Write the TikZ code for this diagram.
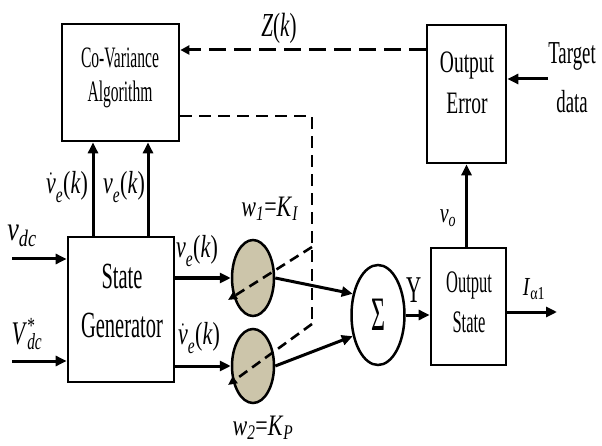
\documentclass[tikz,border=0pt]{standalone}
\usepackage{fontspec}
\setmainfont{Liberation Serif}
\usetikzlibrary{arrows.meta,shapes.geometric}
\definecolor{tanfill}{RGB}{204,197,170}
\newcommand\vs[2]{\scalebox{1}[#1]{#2}}
\newcommand\fs[2]{\fontsize{#1}{#2}\selectfont}
\newcommand\twol[2]{\begin{tabular}{@{}c@{}}#1\\#2\end{tabular}}
\newcommand\dv{\ensuremath{\dot{\mbox{\itshape v}}}}
\newcommand\lsub[1]{\raisebox{-0.12em}{\textsubscript{\textit{#1}}}}
\begin{document}
\begin{tikzpicture}[x=1pt,y=-1pt,
 box/.style={draw,line width=2.7pt,rectangle,inner sep=0pt},
 txt/.style={inner sep=0pt,outer sep=0pt},
 arr/.style={line width=3pt,-{Triangle[length=11pt,width=10pt]}},
 zarr/.style={line width=3pt,dash pattern=on 17pt off 8pt,-{Triangle[length=9pt,width=9pt]}},
 dsh/.style={line width=2.6pt,dash pattern=on 12pt off 7pt},
 darr/.style={line width=2.6pt,dash pattern=on 10pt off 6pt,-{Triangle[length=9pt,width=8pt]}},
 neuron/.style={ellipse,draw,line width=2.5pt,fill=tanfill,inner sep=0pt},
 sumn/.style={ellipse,draw,line width=2.5pt,fill=white,inner sep=0pt}
]
\useasboundingbox (0,0) rectangle (602,446);
% boxes
\node[box,minimum width=117pt,minimum height=117pt] (CV) at (120.5,82.5) {};
\node[box,minimum width=79pt,minimum height=138pt] (OE) at (466.5,94) {};
\node[box,minimum width=106pt,minimum height=145pt] (SG) at (121,309.5) {};
\node[box,minimum width=75pt,minimum height=117pt] (OS) at (468.5,306.5) {};
% box texts
\node[txt] (CVt) at (120,78) {\vs{1.9}{\fs{15.6}{17.9}\twol{Co-Variance}{Algorithm}}};
\node[txt] (OEt) at (467,85) {\vs{1.6}{\fs{19.5}{25.6}\twol{Output}{Error}}};
\node[txt] (SGt) at (122,303) {\vs{1.8}{\fs{20.5}{27}\twol{State}{Generator}}};
\node[txt] (OSt) at (469,304.5) {\vs{1.9}{\fs{16.5}{21}\twol{Output}{State}}};
\node[txt] (TDt) at (572,78) {\vs{1.7}{\fs{18.8}{29}\twol{Target}{data}}};
% neurons
\node[neuron,minimum width=42pt,minimum height=76pt] (c1) at (253,278) {};
\node[neuron,minimum width=42pt,minimum height=74pt] (c2) at (253,366) {};
\node[sumn,minimum width=53pt,minimum height=100pt] (S) at (378,315) {\vs{2}{\fs{24}{24}Σ}};
% coordinates
\coordinate (a1) at (93,0);
\coordinate (a2) at (148,0);
\coordinate (vin) at (12,259);
\coordinate (Vin) at (12,361);
\coordinate (out) at (557,312);
\coordinate (tgt) at (548,79);
\coordinate (zc) at (0,50);
\coordinate (dc) at (0,116);
\coordinate (d1) at (312,116);
\coordinate (d2) at (312,247);
\coordinate (d3) at (312,324);
\coordinate (t1) at (228,300);
\coordinate (t2) at (228,385);
% solid connectors
\draw[arr] (vin) -- (vin -| SG.west);
\draw[arr] (Vin) -- (Vin -| SG.west);
\draw[arr] (SG.east |- c1.west) -- (c1.west);
\draw[arr] (SG.east |- c2.west) -- (c2.west);
\draw[arr] (a1 |- SG.north) -- (a1 |- CV.south);
\draw[arr] (a2 |- SG.north) -- (a2 |- CV.south);
\draw[arr] (c1.east) -- (S.140);
\draw[arr] (c2.east) -- (S.220);
\draw[arr] (S.east) -- (S.east -| OS.west);
\draw[arr] (OS.east |- out) -- (out);
\draw[arr] (OS.north -| OE.south) -- (OE.south);
\draw[arr] (tgt) -- (tgt -| OE.east);
% dashed connectors
\draw[zarr] (OE.west |- zc) -- (CV.east |- zc);
\draw[dsh] (CV.east |- dc) -- (d1) -- (d3);
\draw[darr] (d2) -- (t1);
\draw[darr] (d3) -- (t2);
% labels
\node[txt] (Zl) at (279,28) {\vs{1.6}{\fs{21}{21}\textit{Z}(\textit{k})}};
\node[txt] (l1) at (67,187) {\vs{1.45}{\fs{22}{22}\dv\lsub{e}(\textit{k})}};
\node[txt] (l2) at (124,187) {\vs{1.45}{\fs{22}{22}\textit{v}\lsub{e}(\textit{k})}};
\node[txt] (l3) at (197,251) {\vs{1.45}{\fs{22}{22}\textit{v}\lsub{e}(\textit{k})}};
\node[txt] (l4) at (199,338) {\vs{1.45}{\fs{22}{22}\dv\lsub{e}(\textit{k})}};
\node[txt] (lv) at (22,236) {\vs{1.3}{\fs{26}{26}\textit{v}\textsubscript{\textit{dc}}}};
\node[txt] (lV) at (27,334) {\vs{1.5}{\fs{22}{22}\textit{V}\rlap{\textsuperscript{*}}\textsubscript{\textit{dc}}}};
\node[txt] (lw1) at (270,209) {\vs{1.35}{\fs{22}{22}\textit{w}\textsubscript{\textit{1}}=\textit{K}\textsubscript{\textit{I}}}};
\node[txt] (lw2) at (263,428) {\vs{1.35}{\fs{22}{22}\textit{w}\textsubscript{\textit{2}}=\textit{K}\textsubscript{\textit{P}}}};
\node[txt] (lvo) at (448,218) {\vs{1.4}{\fs{20}{20}\textit{v}\textsubscript{\textit{o}}}};
\node[txt] (lY) at (414,290) {\vs{1.8}{\fs{21}{21}Y}};
\node[txt] (lI) at (534,289) {\vs{1.3}{\fs{20}{20}\textit{I}\textsubscript{α1}}};
\end{tikzpicture}
\end{document}
